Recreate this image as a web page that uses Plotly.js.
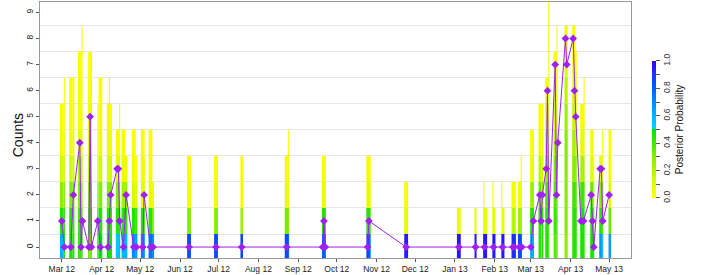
<!DOCTYPE html>
<html>
<head>
<meta charset="utf-8">
<script src="https://cdn.plot.ly/plotly-3.0.1.min.js"></script>
<style>html,body{margin:0;padding:0;background:#fff;}#chart{width:706px;height:275px;}</style>
</head>
<body>
<div id="chart"></div>
<script>
// Observed counts (purple line)
const markerDates = [
 '2012-03-01','2012-03-03','2012-03-08','2012-03-10','2012-03-15','2012-03-16','2012-03-17','2012-03-22','2012-03-23','2012-03-24',
 '2012-03-29','2012-03-31','2012-04-06','2012-04-07','2012-04-08','2012-04-13','2012-04-14','2012-04-15','2012-04-18','2012-04-20',
 '2012-04-26','2012-04-28','2012-05-03','2012-05-04','2012-05-09','2012-05-11','2012-06-08','2012-06-29','2012-07-19','2012-08-23',
 '2012-09-20','2012-09-21','2012-09-22','2012-10-25','2012-10-26','2012-11-24','2013-01-04','2013-01-17','2013-01-24','2013-01-31',
 '2013-02-07','2013-02-15','2013-02-16','2013-02-20','2013-02-22','2013-03-01','2013-03-03','2013-03-08','2013-03-09','2013-03-10',
 '2013-03-13','2013-03-14','2013-03-15','2013-03-20','2013-03-21','2013-03-22','2013-03-28','2013-03-29','2013-04-03','2013-04-04',
 '2013-04-05','2013-04-09','2013-04-11','2013-04-17','2013-04-18','2013-04-19','2013-04-24','2013-04-25','2013-04-26','2013-05-01'
];
const markerCounts = [
 1,0,0,2,4,0,1,0,5,0,
 1,0,0,1,2,3,3,1,0,2,
 0,0,0,2,0,0,0,0,0,0,
 0,1,0,0,1,0,0,0,0,0,
 0,0,0,0,0,0,1,2,1,2,
 3,6,1,7,2,4,8,7,8,6,
 5,1,1,2,1,0,3,3,1,2
];

// Posterior distributions over the count (index = count)
const barDates = [
 '2012-03-01','2012-03-03','2012-03-08','2012-03-10','2012-03-15','2012-03-16 18:00','2012-03-22','2012-03-23','2012-03-29','2012-03-31',
 '2012-04-06','2012-04-07','2012-04-08','2012-04-13 12:00','2012-04-15','2012-04-18','2012-04-20','2012-04-26','2012-04-28','2012-05-03',
 '2012-05-04','2012-05-09','2012-05-11',
 '2012-06-08','2012-06-29','2012-07-19','2012-08-23','2012-08-24 12:00','2012-09-21','2012-10-25 12:00','2012-10-27','2012-11-24',
 '2013-01-04','2013-01-17','2013-01-23 12:00','2013-01-24 12:00','2013-01-30 12:00','2013-01-31 12:00','2013-02-06 12:00','2013-02-07 12:00',
 '2013-02-15 12:00','2013-02-17','2013-02-20 12:00','2013-02-21 12:00','2013-03-02','2013-03-08','2013-03-10','2013-03-13 12:00',
 '2013-03-15','2013-03-20','2013-03-21 12:00','2013-03-28 12:00','2013-04-03 12:00','2013-04-05','2013-04-10','2013-04-11 12:00',
 '2013-04-17 12:00','2013-04-19','2013-04-24 12:00','2013-04-26','2013-05-01 12:00'
];
const barSpanDays = [
 3,0.8,2.5,1.6,3,0.8,0.8,3,0.8,3,
 2,0.8,2,3,0.8,3,2,3,1.6,3,
 0.8,3,1.6,
 3,3,2,3,0.8,3,3,0.8,3,
 3,1.6,0.8,3,0.8,2,0.8,2,
 3,0.8,3,0.8,3,2,1.6,2.5,
 0.8,2.5,0.8,2.5,2.5,1.6,3,0.8,
 2.5,0.8,2.5,0.8,2
];
const barProbs = [
 [0.6,0.45,0.28,0.14,0.05,0.02],
 [0.5,0.45,0.3,0.14,0.06,0.03,0.02],
 [0.46,0.45,0.3,0.14,0.06,0.03,0.02],
 [0.46,0.42,0.34,0.15,0.06,0.03,0.02],
 [0.42,0.42,0.32,0.2,0.1,0.05,0.03,0.02],
 [0.45,0.38,0.3,0.18,0.1,0.06,0.04,0.03,0.02],
 [0.45,0.4,0.3,0.15,0.06,0.03,0.02],
 [0.32,0.4,0.32,0.2,0.12,0.06,0.03,0.02],
 [0.45,0.45,0.3,0.12,0.05,0.02],
 [0.5,0.45,0.3,0.14,0.06,0.03,0.02],
 [0.5,0.45,0.3,0.12,0.05,0.02],
 [0.5,0.45,0.3,0.14,0.06,0.03,0.02],
 [0.48,0.45,0.32,0.14,0.05,0.02],
 [0.55,0.45,0.3,0.1,0.03],
 [0.5,0.45,0.3,0.12,0.05,0.02],
 [0.6,0.45,0.25,0.08,0.03],
 [0.6,0.45,0.25,0.05],
 [0.7,0.45,0.12,0.05,0.02],
 [0.66,0.42,0.1,0.03],
 [0.73,0.45,0.1,0.05,0.02],
 [0.66,0.4,0.1,0.03],
 [0.76,0.45,0.08,0.04,0.02],
 [0.7,0.3,0.05],
 [0.85,0.3,0.06,0.02],
 [0.85,0.3,0.06,0.02],
 [0.85,0.25,0.05,0.02],
 [0.85,0.32,0.06,0.02],
 [0.8,0.3,0.08,0.03,0.02],
 [0.8,0.45,0.08,0.03],
 [0.85,0.45,0.1,0.03],
 [0.7,0.4,0.08,0.02],
 [0.95,0.1,0.03],
 [0.96,0.08],
 [0.96,0.08],
 [0.9,0.1,0.03],
 [0.96,0.08],
 [0.9,0.1,0.03],
 [0.96,0.08],
 [0.9,0.1,0.03],
 [0.96,0.08],
 [0.92,0.2,0.05],
 [0.9,0.15,0.04],
 [0.86,0.25,0.05],
 [0.8,0.25,0.08,0.03],
 [0.62,0.45,0.25,0.08,0.03],
 [0.45,0.45,0.35,0.18,0.07,0.03],
 [0.45,0.45,0.3,0.15,0.06,0.02],
 [0.45,0.45,0.4,0.28,0.14,0.06,0.02],
 [0.42,0.42,0.38,0.3,0.22,0.15,0.1,0.06,0.03,0.02],
 [0.36,0.42,0.38,0.3,0.2,0.12,0.06,0.02],
 [0.4,0.4,0.36,0.3,0.2,0.12,0.07,0.04,0.02],
 [0.28,0.3,0.3,0.3,0.3,0.25,0.18,0.1,0.04],
 [0.45,0.45,0.42,0.3,0.24,0.16,0.1,0.05,0.02],
 [0.45,0.45,0.4,0.28,0.18,0.1,0.05,0.02],
 [0.46,0.46,0.42,0.22,0.08,0.03],
 [0.45,0.45,0.4,0.24,0.1,0.05,0.02],
 [0.46,0.45,0.35,0.1,0.04],
 [0.5,0.4,0.2,0.05],
 [0.65,0.45,0.3,0.08],
 [0.6,0.42,0.3,0.1,0.03],
 [0.65,0.35,0.12,0.04,0.02]
];

const tickDates = ['2012-03-01','2012-04-01','2012-05-01','2012-06-01','2012-07-01','2012-08-01','2012-09-01','2012-10-01',
 '2012-11-01','2012-12-01','2013-01-01','2013-02-01','2013-03-01','2013-04-01','2013-05-01'];
const tickLabels = ['Mar 12','Apr 12','May 12','Jun 12','Jul 12','Aug 12','Sep 12','Oct 12','Nov 12','Dec 12','Jan 13','Feb 13','Mar 13','Apr 13','May 13'];
const countTicks = [0,1,2,3,4,5,6,7,8,9];
const gridLevels = [0.5,1.5,2.5,3.5,4.5,5.5,6.5,7.5,8.5];
const probTicks = [0,0.1,0.2,0.3,0.4,0.5,0.6,0.7,0.8,0.9,1.0];
const probLabels = ['0.0','','0.2','','0.4','','0.6','','0.8','','1.0'];

const DAY = 86400000;
const bx = [], bbase = [], by = [], bcol = [], bw = [];
barDates.forEach((d, i) => {
  barProbs[i].forEach((p, k) => {
    bx.push(d); bbase.push(k - 0.5); by.push(1); bcol.push(p); bw.push(barSpanDays[i] * DAY);
  });
});

const colorscale = [
 [0,'#ffff00'],[0.1,'#e2ff00'],[0.2,'#b4f500'],[0.3,'#84ee00'],[0.4,'#48e600'],[0.5,'#00e000'],
 [0.501,'#00d8ff'],[0.6,'#00b4ff'],[0.7,'#008cff'],[0.8,'#0060ff'],[0.9,'#1a34ff'],[1,'#3300ff']
];
const FONT = 'Liberation Sans, Arial, sans-serif';

const bars = {
  type: 'bar', x: bx, y: by, base: bbase, width: bw,
  marker: {
    color: bcol, colorscale: colorscale, cmin: 0, cmax: 1, line: {width: 0},
    showscale: true,
    colorbar: {
      thickness: 4, thicknessmode: 'pixels', len: 137, lenmode: 'pixels',
      x: 1.035, xanchor: 'left', y: 0.502, yanchor: 'middle', xpad: 0, ypad: 0,
      outlinewidth: 0, tickmode: 'array', tickvals: probTicks, ticktext: probLabels,
      ticks: 'outside', ticklen: 4, tickcolor: '#555', tickangle: -90,
      tickfont: {family: FONT, size: 8.5, color: '#333'},
      title: {text: 'Posterior Probability', side: 'right', font: {family: FONT, size: 10, color: '#111'}}
    }
  },
  hoverinfo: 'skip', showlegend: false
};

const line = {
  type: 'scatter', mode: 'lines+markers', x: markerDates, y: markerCounts,
  line: {color: '#a020f0', width: 1},
  marker: {symbol: 'diamond', size: 6, color: '#a020f0'},
  showlegend: false
};

const layout = {
  width: 706, height: 275,
  margin: {l: 40, r: 75, t: 2, b: 17},
  paper_bgcolor: '#fff', plot_bgcolor: '#fff',
  barmode: 'overlay',
  font: {family: FONT, color: '#222'},
  xaxis: {
    type: 'date', range: ['2012-02-13', '2013-05-18'],
    tickmode: 'array', tickvals: tickDates, ticktext: tickLabels,
    ticks: 'outside', ticklen: 3, tickcolor: '#555',
    tickfont: {size: 8.5, color: '#222'},
    showgrid: false, zeroline: false,
    showline: true, linecolor: '#999', linewidth: 1, mirror: true
  },
  yaxis: {
    range: [-0.42, 9.4],
    tickmode: 'array', tickvals: countTicks, ticks: 'outside', ticklen: 3, tickcolor: '#555',
    tickangle: -90, tickfont: {size: 8.5, color: '#222'},
    showgrid: false, zeroline: false,
    minor: {tickmode: 'array', tickvals: gridLevels, showgrid: true, gridcolor: '#e6e6e6', gridwidth: 1, ticks: ''},
    showline: true, linecolor: '#999', linewidth: 1, mirror: true
  },
  annotations: [{
    text: 'Counts', xref: 'paper', yref: 'paper', x: -0.037, y: 0.48,
    xanchor: 'center', yanchor: 'middle', textangle: -90, showarrow: false,
    font: {family: FONT, size: 14, color: '#111'}
  }]
};

Plotly.newPlot('chart', [bars, line], layout, {displayModeBar: false, staticPlot: true});
</script>
</body>
</html>
